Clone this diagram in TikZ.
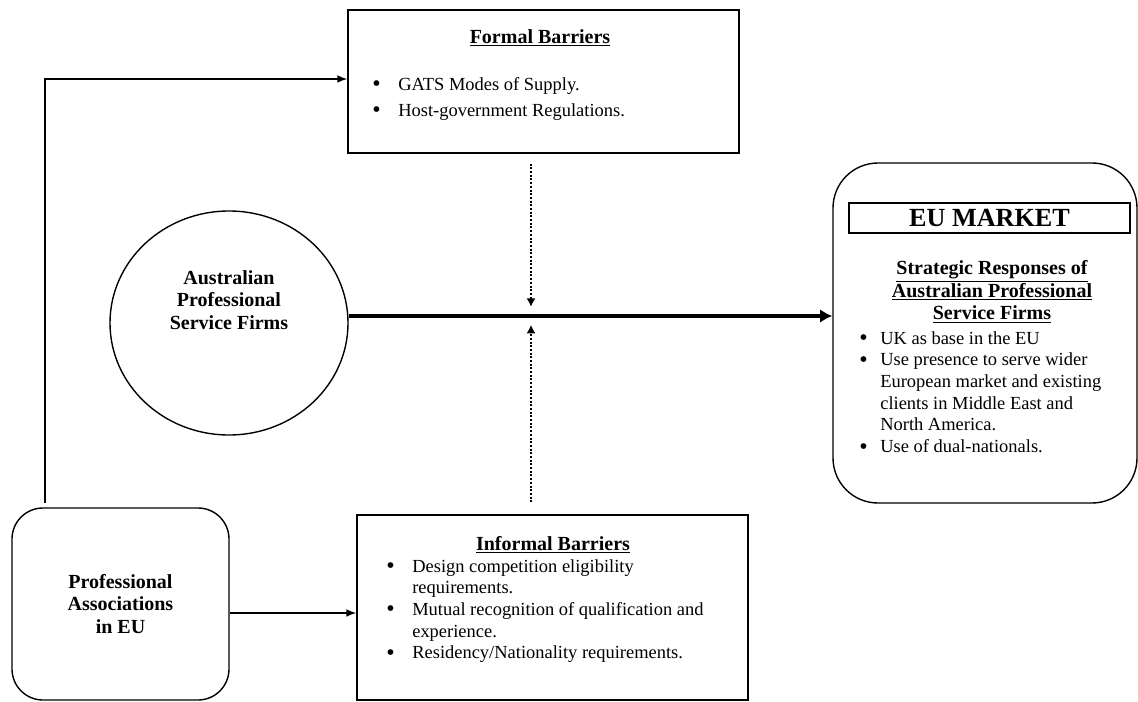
\documentclass[tikz,border=0pt]{standalone}
\usepackage{fontspec}
\setmainfont{Liberation Serif}
\usetikzlibrary{positioning, arrows.meta, shapes.geometric, calc}
\newlength{\px}\setlength{\px}{0.65pt}
\newcommand{\bul}[1][26]{\makebox[#1\px][l]{\raisebox{-0.08em}{\scalebox{1.3}{\textbullet}}}}
\newcommand{\nobul}[1][26]{\hspace*{#1\px}}

\begin{document}
\begin{tikzpicture}[x=\px, y=-\px,
    box/.style={draw, line width=0.9pt, inner sep=0pt},
    rbox/.style={box, rounded corners=#1},
    head/.style={font=\fontsize{13}{14.6}\selectfont\bfseries, align=center, inner sep=0pt},
    body/.style={font=\fontsize{12}{14.1}\selectfont, align=left, inner sep=0pt, anchor=north west},
    link/.style={line width=0.9pt, -{Latex[length=6.5pt,width=5pt]}},
    flow/.style={line width=2.3pt, -{Latex[length=8pt,width=9pt]}},
    press/.style={line width=1.5pt, dash pattern=on 1.3pt off 1.1pt, -{Latex[length=5.5pt,width=6pt]}}
]
    \useasboundingbox (0,0) rectangle (1138,702);

    % boxes
    \node[box, minimum width=391\px, minimum height=143\px] (formal) at (543.5,81.5) {};
    \node[box, minimum width=391\px, minimum height=185\px] (informal) at (552.5,607.5) {};
    \node[rbox=31\px, minimum width=217\px, minimum height=192\px, head] (assoc) at (120.5,604) {Professional\\Associations\\in EU};
    \node[ellipse, box, minimum width=238\px, minimum height=224\px] (apsf) at (229,323) {};
    \node[head] (apsftext) at (229,300) {Australian\\Professional\\Service Firms};
    \node[rbox=45\px, minimum width=304\px, minimum height=340\px] (market) at (985,333) {};
    \node[box, minimum width=281\px, minimum height=30\px, font=\fontsize{17}{20}\selectfont\bfseries] (euhead) at (989.5,218) {EU MARKET};

    % titles
    \node[head] (formaltitle) at (540,38) {\underline{Formal Barriers}};
    \node[head] (informaltitle) at (553,545) {\underline{Informal Barriers}};
    \node[head] (stratitle) at (992,292) {\underline{Strategic Responses of}\\\underline{Australian Professional}\\\underline{Service Firms}};

    % lists
    \node[body, font=\fontsize{12}{16.9}\selectfont] (formallist) at (372,77) {\bul GATS Modes of Supply.\\\bul Host-government Regulations.};
    \node[body] (informallist) at (386,559) {\bul Design competition eligibility\\\nobul requirements.\\\bul Mutual recognition of qualification and\\\nobul experience.\\\bul Residency/Nationality requirements.};
    \node[body] (stratlist) at (859,331) {\bul[21]UK as base in the EU\\\bul[21]Use presence to serve wider\\\nobul[21]European market and existing\\\nobul[21]clients in Middle East and\\\nobul[21]North America.\\\bul[21]Use of dual-nationals.};

    % connectors
    \coordinate (meet) at (531,316);
    \coordinate (bend) at (45,79);
    \draw[flow] (apsf.east |- meet) -- (market.west |- meet);
    \draw[press, shorten <=6.5pt, shorten >=6pt] (formal.south -| meet) -- (meet);
    \draw[press, shorten <=7.8pt, shorten >=5.8pt] (informal.north -| meet) -- (meet);
    \draw[link, shorten <=3pt] (assoc.north -| bend) -- (bend) -- (formal.west |- bend);
    \draw[link] ([yshift=-9\px]assoc.east) -- ([yshift=-9\px]assoc.east -| informal.west);
\end{tikzpicture}
\end{document}
